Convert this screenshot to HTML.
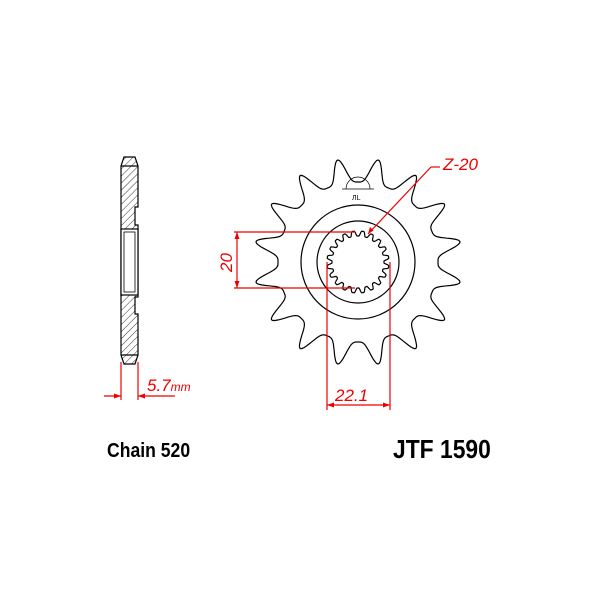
<!DOCTYPE html>
<html><head><meta charset="utf-8"><style>
html,body{margin:0;padding:0;background:#fff;width:600px;height:600px;overflow:hidden}
svg{display:block}
</style></head><body>
<svg id="s" width="600" height="600" viewBox="0 0 600 600" xmlns="http://www.w3.org/2000/svg">
<defs>
<pattern id="h" width="5" height="5" patternUnits="userSpaceOnUse" patternTransform="rotate(45)">
<line x1="0" y1="0" x2="0" y2="5" stroke="#000" stroke-width="0.8"/>
</pattern>
</defs>
<g stroke="#000" stroke-width="1.2" fill="none">
<path id="outer"/>
<circle cx="358" cy="262" r="57"/>
<circle cx="358" cy="262" r="41"/>
<path id="spline"/>
</g>
<g stroke="#000" stroke-width="0.7" fill="none">
<path d="M346 189 A12 12 0 0 1 370 189"/>
<line x1="342" y1="189" x2="374" y2="189"/>
<text x="352" y="200" font-size="7" font-family="Liberation Sans" fill="#000" stroke="none">ЛL</text>
</g>
<g stroke="#000" stroke-width="1.2">
<path d="M124 157 L135 157 L138 166 L138 207 L135 207 L135 225 L138 225 L138 297 L135 297 L135 314 L138 314 L138 355 L135 364 L124 364 L121 355 L121 166 Z" fill="url(#h)"/>
<rect x="121" y="229" width="17" height="66" fill="#fff"/>
<rect x="124" y="232" width="11" height="60" fill="none" stroke-width="0.8"/>
<line x1="121" y1="166" x2="138" y2="166"/>
<line x1="121" y1="355" x2="138" y2="355"/>
</g>
<g stroke="#e00" stroke-width="1.2" fill="#e00">
<line x1="121" y1="362" x2="121" y2="400"/>
<line x1="138" y1="362" x2="138" y2="400"/>
<line x1="104" y1="396" x2="121" y2="396"/>
<line x1="138" y1="396" x2="175" y2="396"/>
<path d="M121 396 l-7 -2.5 v5z M138 396 l7 -2.5 v5z" stroke="none"/>
<line x1="234" y1="232" x2="355" y2="232"/>
<line x1="234" y1="288" x2="355" y2="288"/>
<line x1="237" y1="232" x2="237" y2="288"/>
<path d="M237 232 l-2.5 7 h5z M237 288 l-2.5 -7 h5z" stroke="none"/>
<line x1="327" y1="262" x2="327" y2="410"/>
<line x1="390" y1="262" x2="390" y2="410"/>
<line x1="327" y1="405" x2="390" y2="405"/>
<path d="M327 405 l7 -2.5 v5z M390 405 l-7 -2.5 v5z" stroke="none"/>
<line x1="368" y1="234" x2="431" y2="167"/>
<line x1="431" y1="167" x2="440" y2="167"/>
<path d="M368 234 l2 -7 l3.5 3.5z" stroke="none"/>
</g>
<g fill="#e00" font-family="Liberation Sans" font-style="italic">
<text x="147" y="391" font-size="17">5.7<tspan font-size="12">mm</tspan></text>
<text x="335" y="401" font-size="17">22.1</text>
<text x="443" y="170" font-size="17">Z-20</text>
<text transform="translate(232 272) rotate(-90)" font-size="17">20</text>
</g>
<g font-family="Liberation Sans" font-weight="bold" fill="#000">
<text x="107" y="457" font-size="20" transform="translate(107 0) scale(0.88 1) translate(-107 0)">Chain 520</text>
<text x="393" y="458" font-size="26" transform="translate(393 0) scale(0.88 1) translate(-393 0)">JTF 1590</text>
</g>
</svg>
<script>
(function(){
var cx=358,cy=262;
function gear(N,rt,rr,off,mode){
 var d="",steps=N*30;
 for(var i=0;i<=steps;i++){
  var a=i/steps*2*Math.PI;
  var ph=((a/(2*Math.PI))*N+off)%1; if(ph<0)ph+=1;
  var t=Math.abs(ph-0.5)*2; // 1 tooth center, 0 valley
  var r;
  if(mode==1){
   var u=Math.pow(t,1.7);
   r=rr+(rt-rr)*(1-Math.cos(Math.PI*u))/2;
  } else {
   var u=Math.min(1,Math.max(0,(t-0.2)/0.6));
   r=rr+(rt-rr)*(1-Math.cos(Math.PI*u))/2;
  }
  var x=cx+r*Math.sin(a), y=cy-r*Math.cos(a);
  d+=(i?"L":"M")+x.toFixed(1)+" "+y.toFixed(1);
 }
 return d+"Z";
}
document.getElementById("outer").setAttribute("d",gear(16,104,80,0.5,1));
document.getElementById("spline").setAttribute("d",gear(20,31,26,0.5,2));
})();
</script>
</body></html>
